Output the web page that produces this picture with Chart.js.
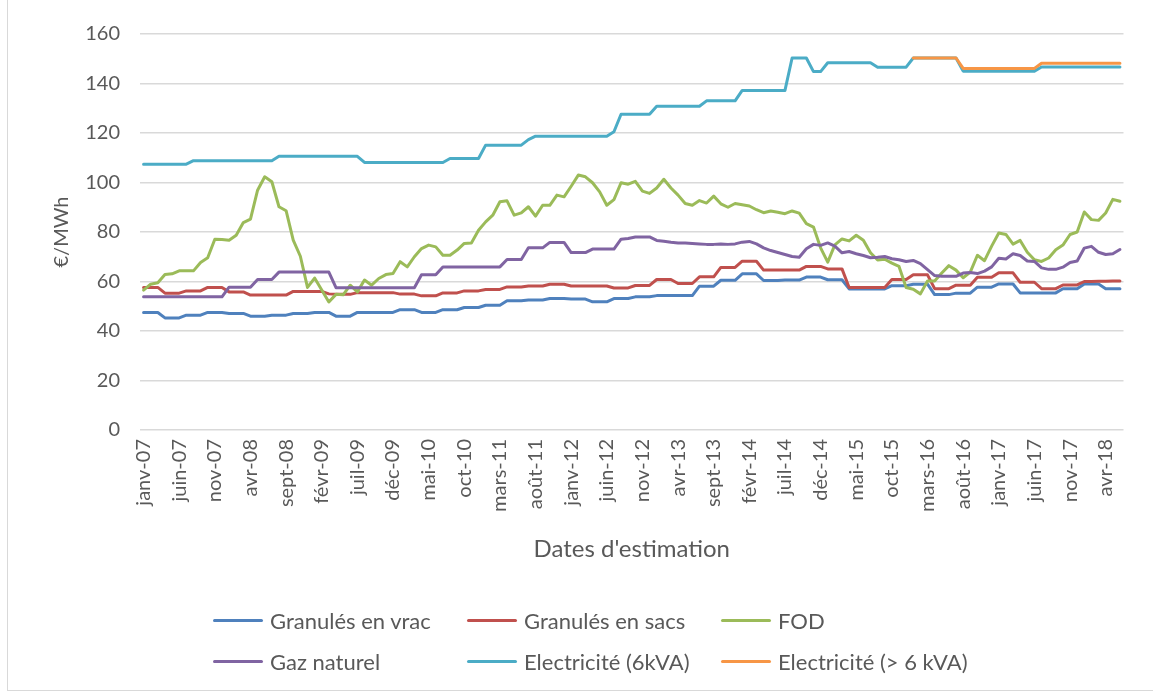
<!DOCTYPE html>
<html lang="fr">
<head>
<meta charset="UTF-8">
<title>Prix des énergies</title>
<script src="https://cdn.jsdelivr.net/npm/chart.js"></script>
<style>
    body {
        margin: 0;
        background: #ffffff;
    }
    .wrap {
        position: relative;
        width: 1153px;
        height: 694px;
        overflow: hidden;
    }
    .frame {
        position: absolute;
        left: 7px;
        top: -2px;
        width: 1150px;
        height: 693px;
        border: 1px solid #d9d9d9;
        box-sizing: border-box;
    }
    #chart {
        position: absolute;
        left: 0;
        top: 0;
    }
    #legend {
        position: absolute;
        left: 213px;
        top: 600px;
        display: grid;
        grid-template-columns: 254px 254px 254px;
        grid-auto-rows: 41px;
        font-family: Lato, sans-serif;
        font-size: 22px;
        color: #595959;
    }
    #legend .item {
        display: flex;
        align-items: center;
        white-space: nowrap;
    }
    #legend .swatch {
        width: 50px;
        height: 3px;
        margin-right: 7px;
        border-radius: 2px;
    }
</style>
</head>
<body>
<div class="wrap">
    <div class="frame"></div>
    <canvas id="chart" width="1153" height="694"></canvas>
    <div id="legend"></div>
</div>

<script>
// months (Jan 2007 to Jun 2018)
const monthNames = ['janv', 'févr', 'mars', 'avr', 'mai', 'juin', 'juil', 'août', 'sept', 'oct', 'nov', 'déc'];
const firstYear = 2007;
const monthCount = 138;

const seriesNames = ['Granulés en vrac', 'Granulés en sacs', 'FOD', 'Gaz naturel', 'Electricité (6kVA)', 'Electricité (> 6 kVA)'];
const seriesColors = ['#4f81bd', '#c0504d', '#9bbb59', '#8064a2', '#4bacc6', '#f79646'];

// €/MWh, one value per month
const granulesVrac = [
    47.5, 47.5, 47.5, 45.3, 45.3, 45.3, 46.4, 46.4, 46.4, 47.5, 47.5, 47.5,
    47.1, 47.1, 47.1, 46.0, 46.0, 46.0, 46.4, 46.4, 46.4, 47.1, 47.1, 47.1,
    47.5, 47.5, 47.5, 46.0, 46.0, 46.0, 47.5, 47.5, 47.5, 47.5, 47.5, 47.5,
    48.6, 48.6, 48.6, 47.5, 47.5, 47.5, 48.6, 48.6, 48.6, 49.5, 49.5, 49.5,
    50.4, 50.4, 50.4, 52.2, 52.2, 52.2, 52.5, 52.5, 52.5, 53.1, 53.1, 53.1,
    52.9, 52.9, 52.9, 51.8, 51.8, 51.8, 53.1, 53.1, 53.1, 53.8, 53.8, 53.8,
    54.3, 54.3, 54.3, 54.3, 54.3, 54.3, 58.1, 58.1, 58.1, 60.5, 60.5, 60.5,
    63.1, 63.1, 63.1, 60.4, 60.4, 60.4, 60.6, 60.6, 60.6, 61.8, 61.8, 61.8,
    60.7, 60.7, 60.7, 57.0, 57.0, 57.0, 57.0, 57.0, 57.0, 58.3, 58.3, 58.3,
    58.9, 58.9, 58.9, 54.7, 54.7, 54.7, 55.3, 55.3, 55.3, 57.7, 57.7, 57.7,
    59.0, 59.0, 59.0, 55.4, 55.4, 55.4, 55.4, 55.4, 55.4, 57.1, 57.1, 57.1,
    59.0, 59.0, 59.0, 57.1, 57.1, 57.1
];

const granulesSacs = [
    57.6, 57.6, 57.6, 55.3, 55.3, 55.3, 56.2, 56.2, 56.2, 57.6, 57.6, 57.6,
    55.8, 55.8, 55.8, 54.5, 54.5, 54.5, 54.5, 54.5, 54.5, 56.0, 56.0, 56.0,
    56.0, 56.0, 55.0, 54.8, 54.8, 54.8, 55.5, 55.5, 55.5, 55.5, 55.5, 55.5,
    54.9, 54.9, 54.9, 54.2, 54.2, 54.2, 55.4, 55.4, 55.4, 56.2, 56.2, 56.2,
    56.8, 56.8, 56.8, 57.8, 57.8, 57.8, 58.2, 58.2, 58.2, 58.9, 58.9, 58.9,
    58.2, 58.2, 58.2, 58.2, 58.2, 58.2, 57.4, 57.4, 57.4, 58.4, 58.4, 58.4,
    60.8, 60.8, 60.8, 59.2, 59.2, 59.2, 61.9, 61.9, 61.9, 65.7, 65.7, 65.7,
    68.2, 68.2, 68.2, 64.6, 64.6, 64.6, 64.6, 64.6, 64.6, 66.1, 66.1, 66.1,
    65.1, 65.1, 65.1, 57.6, 57.6, 57.6, 57.6, 57.6, 57.6, 60.8, 60.8, 60.8,
    62.7, 62.7, 62.7, 57.1, 57.1, 57.1, 58.5, 58.5, 58.5, 61.7, 61.7, 61.7,
    63.5, 63.5, 63.5, 59.7, 59.7, 59.7, 57.1, 57.1, 57.1, 58.6, 58.6, 58.6,
    60.0, 60.0, 60.1, 60.1, 60.2, 60.2
];

const fod = [
    56.5, 58.9, 59.5, 62.8, 63.1, 64.3, 64.3, 64.3, 67.7, 69.6, 77.1, 77.0,
    76.7, 78.7, 83.8, 85.2, 96.9, 102.3, 100.3, 90.2, 88.6, 76.7, 70.2, 57.6,
    61.4, 56.6, 51.7, 54.8, 54.6, 58.5, 55.8, 60.6, 58.5, 61.2, 62.8, 63.2,
    68.0, 65.9, 70.0, 73.3, 74.7, 74.0, 70.6, 70.6, 72.7, 75.4, 75.6, 80.7,
    84.1, 86.8, 92.2, 92.6, 86.8, 87.7, 90.2, 86.4, 90.8, 90.8, 94.9, 94.2,
    98.5, 103.0, 102.3, 99.9, 96.2, 90.8, 93.1, 99.9, 99.3, 100.5, 96.5, 95.6,
    97.8, 101.3, 97.8, 94.9, 91.5, 90.8, 92.7, 91.7, 94.5, 91.4, 90.0, 91.5,
    91.0, 90.5, 89.0, 87.8, 88.5, 88.0, 87.4, 88.5, 87.6, 83.4, 82.0, 73.6,
    67.8, 74.8, 77.2, 76.4, 78.7, 76.7, 71.6, 68.7, 69.0, 67.4, 66.1, 57.6,
    56.9, 55.0, 60.2, 60.2, 63.4, 66.4, 64.6, 61.5, 63.8, 70.6, 68.4, 74.3,
    79.6, 79.0, 75.1, 76.6, 71.8, 68.8, 68.1, 69.5, 72.8, 74.7, 79.0, 80.0,
    88.1, 85.0, 84.7, 87.7, 93.2, 92.4
];

const gazNaturel = [
    53.8, 53.8, 53.8, 53.8, 53.8, 53.8, 53.8, 53.8, 53.8, 53.8, 53.8, 53.8,
    57.7, 57.7, 57.7, 57.7, 60.8, 60.8, 60.8, 63.8, 63.8, 63.8, 63.8, 63.8,
    63.8, 63.8, 63.8, 57.5, 57.5, 57.5, 57.5, 57.5, 57.5, 57.5, 57.5, 57.5,
    57.5, 57.5, 57.5, 62.7, 62.7, 62.7, 65.9, 65.9, 65.9, 65.9, 65.9, 65.9,
    65.9, 65.9, 65.9, 68.9, 68.9, 68.9, 73.6, 73.6, 73.6, 75.8, 75.8, 75.8,
    71.7, 71.7, 71.7, 73.1, 73.1, 73.1, 73.1, 77.1, 77.4, 78.0, 78.0, 78.0,
    76.6, 76.3, 75.9, 75.6, 75.6, 75.4, 75.2, 75.0, 75.0, 75.2, 75.0, 75.2,
    75.9, 76.2, 75.2, 73.6, 72.5, 71.7, 70.9, 70.1, 69.8, 73.2, 75.0, 74.6,
    75.6, 74.3, 71.6, 72.1, 71.2, 70.5, 69.6, 69.8, 70.1, 69.2, 68.8, 68.1,
    68.5, 67.2, 64.8, 62.4, 62.1, 62.1, 62.1, 63.4, 63.6, 63.2, 64.2, 65.9,
    69.4, 69.1, 71.2, 70.5, 68.3, 68.1, 65.5, 64.9, 64.9, 65.8, 67.7, 68.3,
    73.5, 74.2, 71.8, 70.9, 71.2, 72.9
];

const elec6kva = [
    107.4, 107.4, 107.4, 107.4, 107.4, 107.4, 107.4, 108.8, 108.8, 108.8, 108.8, 108.8,
    108.8, 108.8, 108.8, 108.8, 108.8, 108.8, 108.8, 110.6, 110.6, 110.6, 110.6, 110.6,
    110.6, 110.6, 110.6, 110.6, 110.6, 110.6, 110.6, 108.1, 108.1, 108.1, 108.1, 108.1,
    108.1, 108.1, 108.1, 108.1, 108.1, 108.1, 108.1, 109.7, 109.7, 109.7, 109.7, 109.7,
    115.1, 115.1, 115.1, 115.1, 115.1, 115.1, 117.3, 118.7, 118.7, 118.7, 118.7, 118.7,
    118.7, 118.7, 118.7, 118.7, 118.7, 118.7, 120.5, 127.6, 127.6, 127.6, 127.6, 127.6,
    130.8, 130.8, 130.8, 130.8, 130.8, 130.8, 130.8, 133.0, 133.0, 133.0, 133.0, 133.0,
    137.2, 137.2, 137.2, 137.2, 137.2, 137.2, 137.2, 150.3, 150.3, 150.3, 144.8, 144.8,
    148.4, 148.4, 148.4, 148.4, 148.4, 148.4, 148.4, 146.6, 146.6, 146.6, 146.6, 146.6,
    150.3, 150.3, 150.3, 150.3, 150.3, 150.3, 150.3, 145.0, 145.0, 145.0, 145.0, 145.0,
    145.0, 145.0, 145.0, 145.0, 145.0, 145.0, 146.7, 146.7, 146.7, 146.7, 146.7, 146.7,
    146.7, 146.7, 146.7, 146.7, 146.7, 146.7
];

// only published from January 2016
const elecPlus6kva = [
    null, null, null, null, null, null, null, null, null, null, null, null,
    null, null, null, null, null, null, null, null, null, null, null, null,
    null, null, null, null, null, null, null, null, null, null, null, null,
    null, null, null, null, null, null, null, null, null, null, null, null,
    null, null, null, null, null, null, null, null, null, null, null, null,
    null, null, null, null, null, null, null, null, null, null, null, null,
    null, null, null, null, null, null, null, null, null, null, null, null,
    null, null, null, null, null, null, null, null, null, null, null, null,
    null, null, null, null, null, null, null, null, null, null, null, null,
    150.3, 150.3, 150.3, 150.3, 150.3, 150.3, 150.3, 146.1, 146.1, 146.1, 146.1, 146.1,
    146.1, 146.1, 146.1, 146.1, 146.1, 146.1, 148.2, 148.2, 148.2, 148.2, 148.2, 148.2,
    148.2, 148.2, 148.2, 148.2, 148.2, 148.2
];

const labels = [];
for (let i = 0; i < monthCount; i++) {
    const year = firstYear + Math.floor(i / 12);
    labels.push(monthNames[i % 12] + '-' + String(year).slice(2));
}

const allSeries = [granulesVrac, granulesSacs, fod, gazNaturel, elec6kva, elecPlus6kva];

const textColor = '#595959';
const fontFamily = 'Lato, sans-serif';

const chart = new Chart(document.getElementById('chart'), {
    type: 'line',
    data: {
        labels: labels,
        datasets: allSeries.map((values, k) => ({
            label: seriesNames[k],
            data: values,
            borderColor: seriesColors[k],
            backgroundColor: seriesColors[k],
            borderWidth: 3,
            pointRadius: 0,
            tension: 0,
            borderJoinStyle: 'round',
            borderCapStyle: 'round',
            // later series sit on top, like the spreadsheet
            order: allSeries.length - 1 - k
        }))
    },
    options: {
        responsive: false,
        animation: false,
        devicePixelRatio: 1,
        layout: {
            padding: { top: 34, right: 18, bottom: 119, left: 0 }
        },
        plugins: {
            legend: { display: false },
            tooltip: { enabled: false }
        },
        scales: {
            x: {
                offset: true,
                grid: { display: false, drawTicks: false },
                border: { display: false },
                ticks: {
                    autoSkip: false,
                    maxRotation: 90,
                    minRotation: 90,
                    padding: 9,
                    color: textColor,
                    font: { family: fontFamily, size: 20 },
                    callback: function (value, index) {
                        return index % 5 === 0 ? this.getLabelForValue(value) : '';
                    }
                },
                title: {
                    display: true,
                    text: "Dates d'estimation",
                    color: textColor,
                    font: { family: fontFamily, size: 24 },
                    padding: { top: 0, bottom: 11 }
                },
                afterFit: scale => { scale.height = 145; }
            },
            y: {
                min: 0,
                max: 160,
                grid: { color: '#d9d9d9', lineWidth: 1.5, drawTicks: false },
                border: { display: false },
                ticks: {
                    stepSize: 20,
                    padding: 20,
                    color: textColor,
                    font: { family: fontFamily, size: 20 }
                },
                title: {
                    display: true,
                    text: '€/MWh',
                    color: textColor,
                    font: { family: fontFamily, size: 20 },
                    padding: { top: 50, bottom: 0 }
                },
                afterFit: scale => { scale.width = 140; }
            }
        }
    }
});

// legend laid out in three columns
const legendEl = document.getElementById('legend');
chart.data.datasets.forEach(ds => {
    const item = document.createElement('div');
    item.className = 'item';
    const swatch = document.createElement('span');
    swatch.className = 'swatch';
    swatch.style.background = ds.borderColor;
    const text = document.createElement('span');
    text.textContent = ds.label;
    item.appendChild(swatch);
    item.appendChild(text);
    legendEl.appendChild(item);
});
</script>
</body>
</html>
